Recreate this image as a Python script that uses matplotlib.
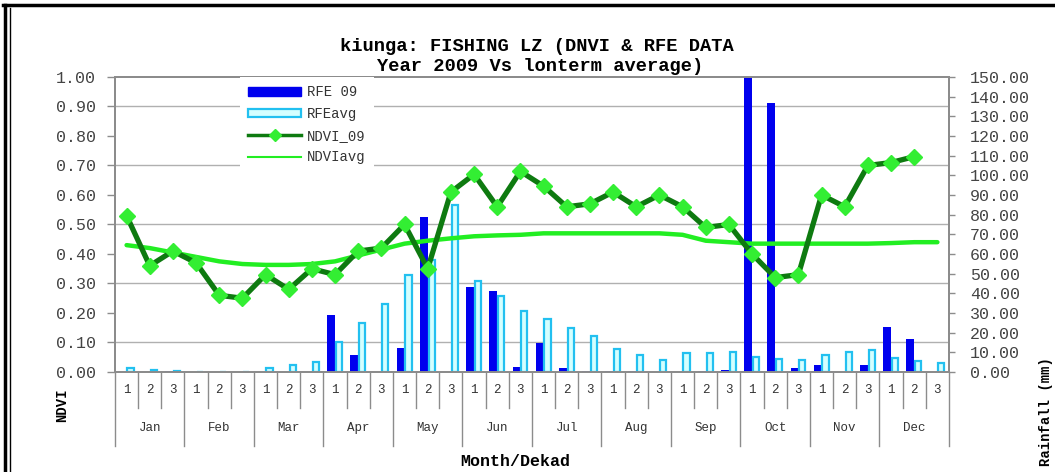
import numpy as np
import matplotlib.pyplot as plt
from matplotlib.lines import Line2D
from matplotlib.patches import Patch
from matplotlib.transforms import blended_transform_factory

# data (36 dekads)
months = ["Jan", "Feb", "Mar", "Apr", "May", "Jun",
          "Jul", "Aug", "Sep", "Oct", "Nov", "Dec"]
dekads = ["1", "2", "3"] * 12

ndvi_09 = [0.53, 0.36, 0.41, 0.37, 0.26, 0.25, 0.33, 0.28, 0.35,
           0.33, 0.41, 0.42, 0.50, 0.35, 0.61, 0.67, 0.56, 0.68,
           0.63, 0.56, 0.57, 0.61, 0.56, 0.60, 0.56, 0.49, 0.50,
           0.40, 0.32, 0.33, 0.60, 0.56, 0.70, 0.71, 0.73, np.nan]
ndvi_avg = [0.43, 0.42, 0.405, 0.39, 0.375, 0.366, 0.363, 0.363, 0.366,
            0.375, 0.395, 0.415, 0.435, 0.445, 0.453, 0.46, 0.463, 0.465,
            0.47, 0.47, 0.47, 0.47, 0.47, 0.47, 0.465, 0.445, 0.44,
            0.435, 0.435, 0.435, 0.435, 0.435, 0.435, 0.437, 0.44, 0.44]
rfe_09 = [0, 0, 0.5, 0, 0, 0, 0, 0, 0,
          29, 8.6, 0, 12, 79, 0, 43.4, 41.3, 2.4,
          14.9, 1.8, 0.5, 0.3, 0.3, 0, 0, 0.7, 1,
          150, 136.6, 1.9, 3.6, 0, 3.6, 22.7, 16.8, 0]
rfe_avg = [1.9, 1, 0.5, 0, 0, 0, 1.9, 3.6, 5.3,
           15, 24.7, 34.6, 49.3, 57, 84.9, 46.3, 38.6, 31,
           26.8, 22.5, 18.5, 11.7, 8.6, 6.1, 9.8, 9.8, 10,
           7.8, 6.6, 6.1, 8.6, 10, 11.2, 7, 5.8, 4.4]

mono = "Liberation Mono"
grey = "#8c8c8c"
x = np.arange(len(dekads))

fig = plt.figure(figsize=(10.55, 4.72), dpi=100)
ax2 = fig.add_axes([0.109, 0.2119, 0.7905, 0.625])   # rainfall (bars)
ax = ax2.twinx()                                        # NDVI (lines)
ax.yaxis.tick_left()
ax.yaxis.set_label_position("left")
ax2.yaxis.tick_right()
ax.set_zorder(ax2.get_zorder() + 1)
ax.patch.set_visible(False)

# bars
w = 0.34
ax2.bar(x - w / 2, rfe_09, width=w, color="#0000ee", zorder=3)
ax2.bar(x + w / 2, rfe_avg, width=w * 0.8, color="#d4ffff",
        edgecolor="#22c0f0", linewidth=1.6, zorder=3)
ax2.set_ylim(0, 150)
ax2.set_xlim(-0.5, 35.5)
ax2.set_yticks(np.arange(0, 151, 10))
ax2.set_yticklabels([f"{v:.2f}" for v in np.arange(0, 151, 10)])
ax2.set_yticks(np.arange(15, 150, 15), minor=True)
ax2.grid(which="minor", axis="y", color="#b0b0b0", linewidth=1.0, zorder=0)
ax2.tick_params(axis="y", which="minor", length=0)
ax2.tick_params(axis="y", which="major", length=4.3, width=1, color=grey,
                pad=11, labelsize=12, labelcolor="#444444", right=True, left=False)
for lab in ax2.get_yticklabels():
    lab.set_fontfamily(mono)

# x axis: dekad numbers + month groups
ax2.set_xticks(x)
ax2.set_xticklabels(dekads, fontfamily=mono, fontsize=9, color="#333333")
ax2.tick_params(axis="x", length=0, pad=9)

# lines
ax.plot(x, ndvi_avg, color="#22ee22", linewidth=3.2, solid_capstyle="round", zorder=4)
ax.plot(x, ndvi_09, color="#0e7a10", linewidth=3.8, marker="D",
        markersize=8, markerfacecolor="#33ee33", markeredgecolor="#33ee33", zorder=5)
ax.set_ylim(0, 1)
ax.set_xlim(-0.5, 35.5)
ax.set_yticks(np.arange(0, 1.01, 0.1))
ax.set_yticklabels([f"{v:.2f}" for v in np.arange(0, 1.01, 0.1)])
ax.tick_params(axis="y", length=6, width=1, color=grey, pad=8,
               labelsize=12, labelcolor="#444444", left=True, right=False)
for lab in ax.get_yticklabels():
    lab.set_fontfamily(mono)

trans = blended_transform_factory(ax.transData, ax.transAxes)
for k in range(len(dekads) + 1):
    ylow = -0.251 if k % 3 == 0 else -0.122
    ax.plot([k - 0.5, k - 0.5], [0, ylow], color=grey, linewidth=1,
            transform=trans, clip_on=False)
for m, name in enumerate(months):
    ax.text(3 * m + 1, -0.19, name, transform=trans, ha="center", va="center",
            fontfamily=mono, fontsize=9, color="#333333")

for a in (ax, ax2):
    for s in a.spines.values():
        s.set_color(grey)
        s.set_linewidth(1.4)

# legend
handles = [Patch(facecolor="#0000ee", edgecolor="#0000ee"),
           Patch(facecolor="#d4ffff", edgecolor="#22c0f0", linewidth=1.6),
           Line2D([], [], color="#0e7a10", linewidth=2.5, marker="D", markersize=6,
                  markerfacecolor="#33ee33", markeredgecolor="#33ee33"),
           Line2D([], [], color="#22ee22", linewidth=1.5)]
leg = ax.legend(handles, ["RFE 09", "RFEavg", "NDVI_09", "NDVIavg"],
                loc="upper left", bbox_to_anchor=(0.2275, 0.837),
                bbox_transform=fig.transFigure, frameon=True, fancybox=False,
                facecolor="white", edgecolor="none", framealpha=1,
                prop={"family": mono, "size": 10}, handlelength=3.8,
                handleheight=0.6, handletextpad=0.4, labelspacing=0.55,
                borderpad=0.6, borderaxespad=0, numpoints=1)
for t in leg.get_texts():
    t.set_color("#333333")

# titles and axis labels
fig.text(0.509, 0.902, "kiunga: FISHING LZ (DNVI & RFE DATA",
         ha="center", va="center", fontfamily=mono, fontweight="bold", fontsize=13.5)
fig.text(0.512, 0.860, "Year 2009 Vs lonterm average)",
         ha="center", va="center", fontfamily=mono, fontweight="bold", fontsize=13.5)
fig.text(0.0588, 0.142, "NDVI", rotation=90, ha="center", va="center",
         fontfamily=mono, fontweight="bold", fontsize=10)
fig.text(0.9915, 0.127, "Rainfall (mm)", rotation=90, ha="center", va="center",
         fontfamily=mono, fontweight="bold", fontsize=10)
fig.text(0.488, 0.023, "Month/Dekad", ha="center", va="center",
         fontfamily=mono, fontweight="bold", fontsize=12)

# outer frame
fig.add_artist(Line2D([0.003, 0.998], [0.989, 0.989], color="black",
                      linewidth=2.5, transform=fig.transFigure))
fig.add_artist(Line2D([0.005, 0.005], [0.0, 0.99], color="black",
                      linewidth=2.5, transform=fig.transFigure))
fig.add_artist(Line2D([0.0092, 0.0092], [0.0, 0.983], color="black",
                      linewidth=1.0, transform=fig.transFigure))

fig.savefig("out.png", dpi=100)
